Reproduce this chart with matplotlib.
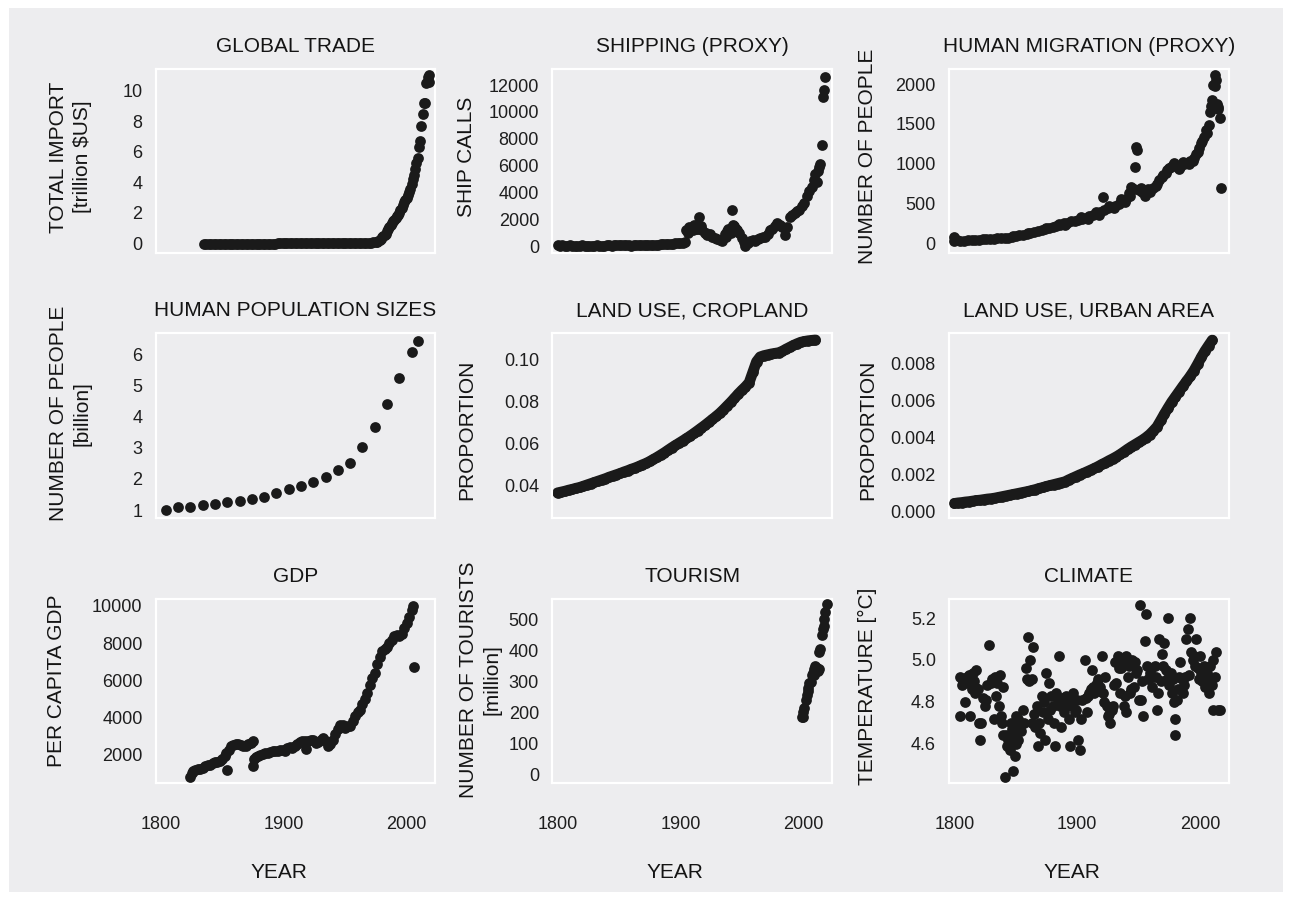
import numpy as np
import matplotlib
matplotlib.use('Agg')
import matplotlib.pyplot as plt
from matplotlib.patches import Rectangle
from matplotlib.ticker import FormatStrFormatter

plt.rcParams['font.family'] = ['Liberation Sans', 'DejaVu Sans']

BG = '#ededef'
DOT = '#1a1a1a'
TXT = '#141414'

# ---- data ----
# global trade, trillion $US
trade_year = list(range(1835, 1976, 2)) + list(range(1976, 2016)) + [2016, 2017, 2018, 2018]
trade_value = [0.00, 0.00, 0.00, 0.00, 0.00, 0.00, 0.00, 0.00, 0.00, 0.00,
               0.00, 0.00, 0.00, 0.00, 0.00, 0.00, 0.00, 0.00, 0.00, 0.00,
               0.00, 0.00, 0.00, 0.00, 0.00, 0.00, 0.00, 0.00, 0.00, 0.00,
               0.01, 0.01, 0.01, 0.01, 0.01, 0.01, 0.01, 0.01, 0.01, 0.01,
               0.01, 0.01, 0.01, 0.01, 0.01, 0.01, 0.01, 0.01, 0.01, 0.01,
               0.01, 0.02, 0.02, 0.02, 0.02, 0.02, 0.02, 0.02, 0.02, 0.02,
               0.02, 0.03, 0.03, 0.03, 0.03, 0.03, 0.04, 0.05, 0.06, 0.08,
               0.10,
               0.12, 0.18, 0.22, 0.30, 0.40, 0.48, 0.55, 0.65, 0.80, 0.95,
               1.08, 1.20, 1.35, 1.45, 1.55, 1.70, 1.80, 1.90, 2.00, 2.20,
               2.35, 2.50, 2.70, 2.85, 3.00, 3.15, 3.35, 3.60, 3.90, 4.20,
               4.50, 4.90, 5.30, 5.60, 6.35, 6.70, 7.70, 8.50, 9.20, 9.20,
               10.5, 10.9, 11.0, 10.6]

# shipping, ship calls
ship_year = list(range(1800, 1905, 2)) + [
    1905, 1906, 1908, 1910, 1912, 1913, 1915, 1916, 1918, 1920,
    1922, 1924, 1926, 1928, 1930, 1932, 1934, 1936, 1938, 1940,
    1942, 1942, 1944, 1946, 1948, 1950, 1952, 1953, 1955, 1957,
    1959, 1961, 1963, 1965, 1967, 1969, 1971, 1973, 1975, 1977,
    1979, 1981, 1983, 1985, 1987, 1989, 1991, 1993, 1995, 1997,
    1999, 2001, 2003, 2005, 2007, 2009, 2010, 2011, 2012, 2013,
    2014, 2015, 2016, 2017, 2018,
    1907, 1911, 1914, 1917, 1921, 1937, 1939, 1941, 1943, 1945]
ship_value = [60, 40, 50, 30, 40, 50, 30, 20, 40, 30,
              50, 40, 30, 20, 30, 40, 50, 40, 30, 40,
              60, 50, 40, 60, 70, 60, 80, 70, 50, 60,
              40, 50, 70, 60, 80, 90, 70, 80, 100, 90,
              110, 100, 120, 140, 130, 150, 170, 160, 190, 210,
              230, 260, 300,
              1190, 1000, 1300, 1190, 1440, 1300, 2190, 1400, 1190, 950,
              800, 900, 700, 620, 500, 450, 350, 900, 1100, 1200,
              1450, 2680, 1500, 1190, 950, 600, 300, 0, 200, 350,
              450, 400, 550, 600, 700, 650, 900, 1190, 1300, 1500,
              1690, 1600, 1440, 820, 1400, 2190, 2300, 2435, 2600, 2700,
              3000, 3200, 3700, 4100, 4400, 4900, 5400, 4800, 5600, 5900,
              6100, 7530, 11130, 11630, 12620,
              1450, 1600, 1250, 1500, 1000, 700, 1300, 1000, 1600, 1300]

# human migration, number of people
mig_year = [1800, 1800, 1802, 1805, 1808, 1811, 1814, 1817, 1820, 1823,
            1826, 1829, 1832, 1835, 1838, 1841, 1844, 1847, 1850, 1853,
            1856, 1859, 1862, 1865, 1868, 1871, 1874, 1877, 1880, 1883,
            1886, 1889, 1892, 1895, 1898, 1901, 1904, 1907, 1910, 1913,
            1916, 1919, 1921, 1922, 1925, 1928, 1931, 1934, 1937, 1940,
            1942, 1944, 1946, 1947, 1948, 1949, 1950, 1953, 1956, 1959,
            1962, 1965, 1967, 1970, 1973, 1976, 1978, 1981, 1984, 1987,
            1989, 1992, 1995, 1997, 1999, 2001, 2003, 2005, 2007, 2008,
            2009, 2010, 2011, 2012, 2013, 2014, 2015, 2016, 2017,
            1848, 1860, 1875, 1885, 1890, 1903, 1909, 1915, 1918, 1926,
            1930, 1936, 1939, 1943, 1952, 1955, 1958, 1964, 1969, 1972,
            1975, 1979, 1983, 1986, 1991, 1994, 1998, 2002, 2006, 2010,
            2012, 2015]
mig_value = [80, 30, 40, 33, 35, 38, 40, 42, 45, 50,
             55, 57, 60, 62, 66, 70, 73, 80, 90, 100,
             108, 117, 128, 140, 155, 170, 180, 195, 205, 215,
             230, 250, 262, 275, 285, 290, 305, 320, 340, 356,
             380, 400, 586, 420, 440, 455, 470, 500, 530, 560,
             628, 711, 680, 962, 1214, 1172, 670, 640, 628, 650,
             690, 750, 795, 860, 921, 960, 983, 970, 962, 990,
             1004, 1030, 1067, 1120, 1193, 1260, 1339, 1420, 1486, 1653,
             1720, 1800, 1988, 2113, 2051, 1750, 1716, 1569, 699,
             90, 130, 195, 240, 230, 330, 300, 400, 360, 470,
             440, 560, 520, 600, 700, 600, 680, 720, 830, 880,
             940, 1010, 930, 1020, 1000, 1040, 1150, 1290, 1380, 1700,
             1980, 1690]

# human population, billion
pop_year = [1804, 1814, 1824, 1834, 1844, 1854, 1864, 1874, 1884, 1894, 1904,
            1914, 1924, 1934, 1944, 1954, 1964, 1974, 1984, 1994, 2004, 2009]
pop_value = [1.00, 1.085, 1.106, 1.17, 1.21, 1.26, 1.30, 1.34, 1.43, 1.55, 1.66,
             1.76, 1.90, 2.06, 2.27, 2.51, 3.02, 3.66, 4.40, 5.23, 6.05, 6.42]

# land use, proportion (every third year)
land_year = list(range(1800, 2011, 3))
crop_value = [.0363, .0367, .0371, .0376, .0380, .0385, .0389, .0395, .0401, .0407,
              .0413, .0419, .0425, .0431, .0438, .0444, .0450, .0456, .0463, .0469,
              .0476, .0482, .0489, .0497, .0504, .0513, .0523, .0533, .0544, .0555,
              .0567, .0579, .0590, .0601, .0612, .0623, .0635, .0647, .0660, .0673,
              .0686, .0700, .0714, .0728, .0743, .0760, .0778, .0796, .0815, .0835,
              .0853, .0870, .0890, .0940, .0990, .1013, .1019, .1023, .1027, .1030,
              .1033, .1040, .1050, .1059, .1068, .1076, .1083, .1087, .1090, .1092,
              .1094]
urban_value = [.00045, .00048, .00050, .00053, .00055, .00058, .00061, .00063, .00066, .00069,
               .00071, .00074, .00078, .00082, .00086, .00090, .00094, .00098, .00102, .00106,
               .00110, .00115, .00120, .00126, .00131, .00137, .00142, .00147, .00152, .00157,
               .00162, .00172, .00181, .00190, .00199, .00207, .00216, .00225, .00234, .00244,
               .00255, .00265, .00276, .00286, .00297, .00309, .00323, .00337, .00350, .00362,
               .00374, .00386, .00400, .00416, .00436, .00458, .00492, .00527, .00560, .00592,
               .00620, .00648, .00676, .00703, .00730, .00760, .00795, .00832, .00866, .00896,
               .00925]

# per capita GDP
gdp_year = [1824, 1825, 1826, 1828, 1830, 1832, 1834, 1836, 1838, 1840,
            1842, 1844, 1846, 1848, 1850, 1852, 1853, 1854, 1855, 1857,
            1859, 1861, 1863, 1865, 1867, 1869, 1871, 1873, 1875, 1875,
            1876, 1877, 1879, 1881, 1883, 1885, 1887, 1889, 1891, 1893,
            1895, 1897, 1899, 1901, 1903, 1905, 1907, 1909, 1911, 1913,
            1915, 1917, 1918, 1920, 1922, 1924, 1926, 1928, 1930, 1932,
            1934, 1936, 1938, 1940, 1942, 1944, 1946, 1948, 1950, 1952,
            1954, 1956, 1958, 1960, 1962, 1964, 1966, 1968, 1970, 1972,
            1974, 1976, 1978, 1980, 1982, 1984, 1986, 1988, 1990, 1992,
            1994, 1996, 1998, 2000, 2002, 2004, 2005, 2006]
gdp_value = [830, 1050, 1150, 1190, 1220, 1230, 1300, 1380, 1440, 1460,
             1550, 1600, 1640, 1650, 1800, 1950, 2090, 1190, 2250, 2450,
             2540, 2580, 2560, 2520, 2450, 2480, 2560, 2620, 2720, 1410,
             1800, 1910, 1950, 2000, 2050, 2080, 2100, 2150, 2180, 2200,
             2210, 2250, 2270, 2200, 2350, 2400, 2380, 2500, 2600, 2700,
             2750, 2720, 2310, 2750, 2800, 2810, 2650, 2700, 2780, 2900,
             2750, 2450, 2600, 2810, 3100, 3400, 3620, 3580, 3450, 3550,
             3530, 3800, 4100, 4300, 4430, 4750, 5000, 5300, 5750, 6100,
             6400, 6900, 7250, 7550, 7700, 7800, 8000, 8150, 8400, 8450,
             8350, 8500, 8800, 9100, 9400, 9750, 10000, 6710]

# tourism, million tourists
tour_year = list(range(1999, 2020)) + [2000, 2004, 2009, 2013, 2017]
tour_value = [185, 200, 215, 240, 258, 280, 296, 300, 320, 329, 340,
              350, 345, 334, 395, 405, 450, 470, 502, 525, 551,
              185, 270, 320, 340, 480]

# climate, temperature in degrees C
clim_year = [1805, 1805, 1807, 1809, 1810, 1811, 1813, 1814, 1815, 1817,
             1817, 1818, 1820, 1821, 1822, 1825, 1826, 1828, 1830, 1832,
             1833, 1834, 1836, 1837, 1838, 1840, 1840, 1841, 1843, 1844,
             1845, 1847, 1847, 1848, 1849, 1850, 1851, 1851, 1852, 1852,
             1853, 1856, 1858, 1859, 1860, 1862, 1863, 1863, 1864, 1866,
             1867, 1868, 1870, 1871, 1872, 1874, 1875, 1877, 1878, 1879,
             1881, 1882, 1883, 1885, 1886, 1887, 1889, 1890, 1891, 1893,
             1894, 1896, 1897, 1898, 1900, 1901, 1902, 1904, 1906, 1908,
             1909, 1910, 1912, 1913, 1914, 1916, 1917, 1919, 1920, 1921,
             1923, 1924, 1925, 1927, 1928, 1929, 1931, 1932, 1933, 1935,
             1936, 1938, 1939, 1940, 1940, 1942, 1943, 1944, 1946, 1947,
             1948, 1950, 1951, 1952, 1954, 1955, 1956, 1957, 1958, 1959,
             1961, 1962, 1963, 1965, 1966, 1967, 1969, 1970, 1971, 1973,
             1974, 1976, 1977, 1978, 1980, 1980, 1981, 1982, 1984, 1985,
             1986, 1988, 1989, 1990, 1992, 1993, 1995, 1996, 1997, 1999,
             2000, 2001, 2003, 2004, 2005, 2007, 2008, 2009, 2011, 2011,
             2013, 2015, 2016,
             1806, 1808, 1812, 1816, 1819, 1823, 1827, 1831, 1835, 1839,
             1842, 1846, 1850, 1854, 1857, 1861, 1865, 1869, 1873, 1876,
             1880, 1884, 1888, 1892, 1895, 1899, 1903, 1907, 1911, 1915,
             1918, 1922, 1926, 1930, 1934, 1937, 1941, 1945, 1949, 1953,
             1960, 1964, 1968, 1972, 1975, 1979, 1983, 1987, 1991, 1994,
             1998, 2002, 2006, 2010, 2012]
clim_value = [4.92, 4.73, 4.90, 4.80, 4.92, 4.89, 4.73, 4.86, 4.94, 4.87,
              4.84, 4.95, 4.70, 4.62, 4.70, 4.78, 4.81, 5.07, 4.89, 4.72,
              4.92, 4.83, 4.78, 4.93, 4.73, 4.87, 4.64, 4.44, 4.59, 4.62,
              4.57, 4.64, 4.67, 4.47, 4.54, 4.60, 4.72, 4.66, 4.62, 4.72,
              4.68, 4.76, 4.96, 4.91, 5.11, 5.00, 4.91, 4.70, 5.06, 4.68,
              4.78, 4.59, 4.65, 4.83, 4.75, 4.62, 4.94, 4.89, 4.76, 4.83,
              4.70, 4.59, 4.84, 5.02, 4.78, 4.68, 4.75, 4.81, 4.83, 4.72,
              4.59, 4.78, 4.84, 4.75, 4.81, 4.62, 4.57, 4.81, 5.00, 4.75,
              4.83, 4.84, 4.95, 4.87, 4.84, 4.89, 4.91, 4.87, 5.02, 4.84,
              4.92, 4.78, 4.73, 4.70, 4.76, 4.78, 4.99, 4.89, 5.02, 4.84,
              4.96, 4.78, 4.83, 4.75, 5.02, 4.97, 4.84, 4.86, 4.87, 4.99,
              4.94, 4.81, 5.26, 4.81, 4.73, 5.09, 5.22, 4.97, 4.91, 4.94,
              4.87, 4.92, 4.97, 4.76, 4.84, 5.10, 5.03, 4.97, 5.08, 4.91,
              5.20, 4.94, 4.84, 4.91, 4.72, 4.64, 4.81, 4.86, 4.99, 4.91,
              4.84, 4.92, 5.10, 5.15, 5.20, 5.04, 5.02, 4.97, 5.10, 4.91,
              5.02, 4.94, 4.97, 4.87, 4.91, 4.84, 4.97, 4.91, 5.00, 4.76,
              5.04, 4.76, 4.76,
              4.88, 4.91, 4.93, 4.90, 4.86, 4.82, 4.88, 4.91, 4.89, 4.70,
              4.64, 4.70, 4.73, 4.66, 4.70, 4.90, 4.74, 4.70, 4.80, 4.72,
              4.78, 4.80, 4.82, 4.78, 4.80, 4.76, 4.72, 4.82, 4.86, 4.88,
              4.85, 4.80, 4.74, 4.88, 4.96, 5.00, 4.92, 5.00, 4.95, 4.90,
              4.96, 4.92, 4.90, 4.95, 4.88, 4.80, 4.92, 4.88, 4.93, 5.00,
              4.96, 4.90, 4.94, 4.88, 4.92]

# ---- layout ----
fig = plt.figure(figsize=(12.9, 8.99), dpi=100, facecolor='white')
fig.add_artist(Rectangle((9 / 1290, 1 - 892 / 899), 1274 / 1290, 884 / 899,
                         transform=fig.transFigure, facecolor=BG,
                         edgecolor='none', zorder=-5))

lefts = [0.1207, 0.4281, 0.7357]
bottoms = [0.7182, 0.4241, 0.1287]
W, H = 0.2168, 0.2050
SIZE = 60


def panel(row, col, x, y, title, ylabel, ylim, yticks, fmt, lab_xy, joined=False):
    ax = fig.add_axes([lefts[col], bottoms[row], W, H])
    ax.set_facecolor(BG)
    for sp in ax.spines.values():
        sp.set_color('white')
        sp.set_linewidth(1.6)
    if joined:
        # dense yearly dots read as one thick band
        ax.plot(x, y, color=DOT, lw=np.sqrt(SIZE), solid_capstyle='round',
                solid_joinstyle='round', zorder=2)
    ax.scatter(x, y, s=SIZE, color=DOT, linewidths=0, zorder=3)
    ax.set_xlim(1795.7, 2023.4)
    ax.set_xticks([1800, 1900, 2000])
    ax.set_ylim(*ylim)
    ax.set_yticks(yticks)
    ax.yaxis.set_major_formatter(FormatStrFormatter(fmt))
    ax.tick_params(length=0, labelsize=13, colors='#1e1e1e')
    ax.tick_params(axis='y', pad=9.5)
    ax.tick_params(axis='x', pad=23.5)
    if row < 2:
        ax.tick_params(labelbottom=False)
    else:
        ax.set_xlabel('YEAR', fontsize=15, color=TXT)
        ax.xaxis.set_label_coords(0.44, -0.43)
    ax.set_title(title, fontsize=15, color=TXT, pad=12.5)
    ax.set_ylabel(ylabel, fontsize=15, color=TXT, va='center', linespacing=1.3)
    ax.yaxis.set_label_coords(*lab_xy)
    return ax


panel(0, 0, trade_year, trade_value, 'GLOBAL TRADE', 'TOTAL IMPORT\n[trillion $US]',
      (-0.64, 11.42), [0, 2, 4, 6, 8, 10], '%d', (-0.304, 0.523))
panel(0, 1, ship_year, ship_value, 'SHIPPING (PROXY)', 'SHIP CALLS',
      (-544, 13194), [0, 2000, 4000, 6000, 8000, 10000, 12000], '%d', (-0.306, 0.524))
panel(0, 2, mig_year, mig_value, 'HUMAN MIGRATION (PROXY)', 'NUMBER OF PEOPLE',
      (-125, 2188), [0, 500, 1000, 1500, 2000], '%d', (-0.291, 0.524))
panel(1, 0, pop_year, pop_value, 'HUMAN POPULATION SIZES', 'NUMBER OF PEOPLE\n[billion]',
      (0.754, 6.66), [1, 2, 3, 4, 5, 6], '%d', (-0.304, 0.566))
panel(1, 1, land_year, crop_value, 'LAND USE, CROPLAND', 'PROPORTION',
      (0.0244, 0.1125), [0.04, 0.06, 0.08, 0.10], '%.2f', (-0.306, 0.479), joined=True)
panel(1, 2, land_year, urban_value, 'LAND USE, URBAN AREA', 'PROPORTION',
      (-0.00032, 0.00961), [0.0, 0.002, 0.004, 0.006, 0.008], '%.3f', (-0.291, 0.479),
      joined=True)
panel(2, 0, gdp_year, gdp_value, 'GDP', 'PER CAPITA GDP',
      (473, 10361), [2000, 4000, 6000, 8000, 10000], '%d', (-0.353, 0.554))
panel(2, 1, tour_year, tour_value, 'TOURISM', 'NUMBER OF TOURISTS\n[million]',
      (-29, 567), [0, 100, 200, 300, 400, 500], '%d', (-0.256, 0.564))
panel(2, 2, clim_year, clim_value, 'CLIMATE', 'TEMPERATURE [°C]',
      (4.411, 5.291), [4.6, 4.8, 5.0, 5.2], '%.1f', (-0.291, 0.527))

fig.savefig('out.png', dpi=100, facecolor='white')
